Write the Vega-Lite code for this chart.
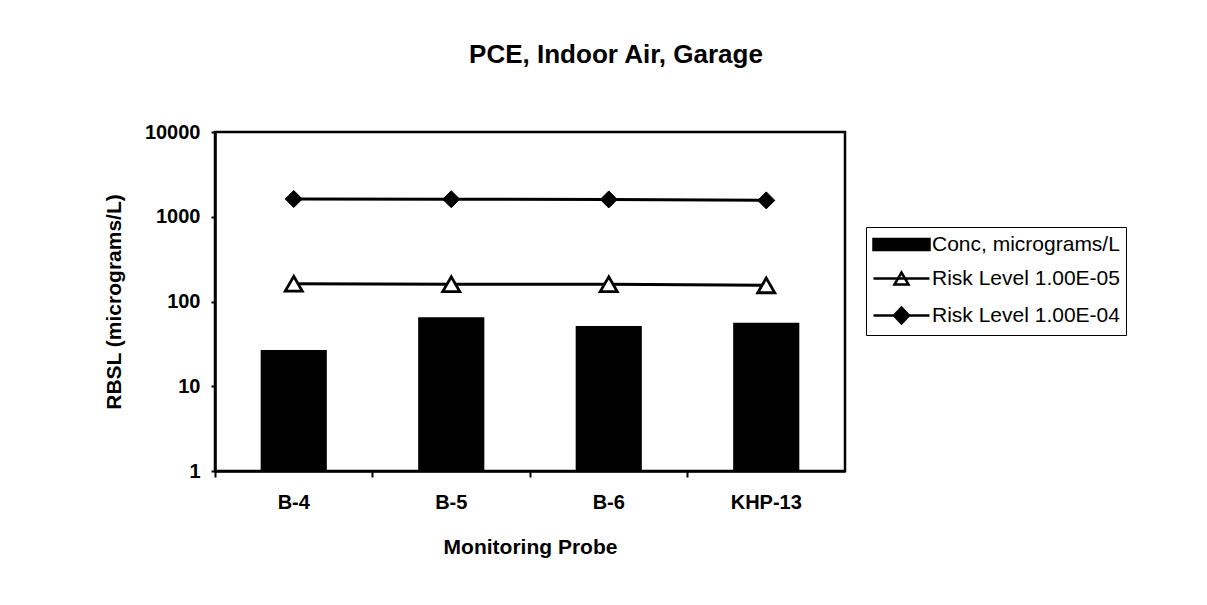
{
  "$schema": "https://vega.github.io/schema/vega-lite/v6.json",
  "autosize": "none",
  "width": 630,
  "height": 339,
  "padding": {"left": 215, "top": 132, "right": 362, "bottom": 134},
  "background": "white",
  "title": {
    "text": "PCE, Indoor Air, Garage",
    "font": "Liberation Sans",
    "fontSize": 26,
    "fontWeight": "bold",
    "color": "black",
    "anchor": "middle",
    "dx": 86,
    "offset": 54
  },
  "data": {
    "values": [
      {"probe": "B-4", "series": "Conc, micrograms/L", "value": 26.8},
      {"probe": "B-5", "series": "Conc, micrograms/L", "value": 65},
      {"probe": "B-6", "series": "Conc, micrograms/L", "value": 51.4},
      {"probe": "KHP-13", "series": "Conc, micrograms/L", "value": 56.2},
      {"probe": "B-4", "series": "Risk Level 1.00E-05", "value": 162},
      {"probe": "B-5", "series": "Risk Level 1.00E-05", "value": 160},
      {"probe": "B-6", "series": "Risk Level 1.00E-05", "value": 160},
      {"probe": "KHP-13", "series": "Risk Level 1.00E-05", "value": 155},
      {"probe": "B-4", "series": "Risk Level 1.00E-04", "value": 1620},
      {"probe": "B-5", "series": "Risk Level 1.00E-04", "value": 1610},
      {"probe": "B-6", "series": "Risk Level 1.00E-04", "value": 1600},
      {"probe": "KHP-13", "series": "Risk Level 1.00E-04", "value": 1560}
    ]
  },
  "encoding": {
    "x": {
      "field": "probe",
      "type": "nominal",
      "sort": ["B-4", "B-5", "B-6", "KHP-13"],
      "scale": {"domain": ["B-4", "B-5", "B-6", "KHP-13"], "paddingInner": 0.58, "paddingOuter": 0.29},
      "axis": {
        "title": "Monitoring Probe",
        "labelAngle": 0,
        "ticks": true,
        "tickSize": 6,
        "bandPosition": -0.69,
        "labelPadding": 15,
        "titlePadding": 24
      }
    },
    "y": {
      "field": "value",
      "type": "quantitative",
      "scale": {"type": "log", "domain": [1, 10000]},
      "axis": {
        "title": "RBSL (micrograms/L)",
        "values": [1, 10, 100, 1000, 10000],
        "format": "d",
        "tickSize": 4,
        "labelPadding": 11,
        "titlePadding": 20
      }
    }
  },
  "layer": [
    {
      "transform": [{"filter": "datum.series === 'Conc, micrograms/L'"}],
      "mark": {"type": "bar", "color": "black"},
      "encoding": {"y2": {"datum": 1}}
    },
    {
      "transform": [{"filter": "datum.series !== 'Conc, micrograms/L'"}],
      "mark": {"type": "line", "color": "black", "strokeWidth": 3},
      "encoding": {"detail": {"field": "series"}}
    },
    {
      "transform": [{"filter": "datum.series === 'Risk Level 1.00E-05'"}],
      "mark": {"type": "point", "shape": "triangle-up", "filled": true, "fill": "white", "size": 290, "stroke": "black", "strokeWidth": 2.8, "opacity": 1}
    },
    {
      "transform": [{"filter": "datum.series === 'Risk Level 1.00E-04'"}],
      "mark": {"type": "point", "shape": "diamond", "filled": true, "fill": "black", "size": 290, "stroke": "black", "strokeWidth": 1, "opacity": 1}
    },
    {
      "mark": {"type": "point", "filled": true, "opacity": 0, "strokeWidth": 2.5},
      "encoding": {
        "shape": {
          "field": "series",
          "type": "nominal",
          "scale": {
            "domain": ["Conc, micrograms/L", "Risk Level 1.00E-05", "Risk Level 1.00E-04"],
            "range": ["M-1,-0.55H4.6V0.55H-1Z", "M-1,0H4.6M1.1,0.6L1.8,-0.6L2.5,0.6Z", "M-1,0H4.6M1.8,-0.8L2.55,0L1.8,0.8L1.05,0Z"]
          },
          "legend": {
            "title": null,
            "orient": "none",
            "legendX": 651,
            "legendY": 95,
            "strokeColor": "black",
            "fillColor": "white",
            "padding": 6,
            "labelFont": "Liberation Sans",
            "labelFontSize": 21,
            "labelColor": "black",
            "labelOffset": 37,
            "labelLimit": 0,
            "rowPadding": 12,
            "symbolSize": 400,
            "symbolStrokeWidth": 2.5,
            "symbolOpacity": 1
          }
        },
        "fill": {
          "field": "series",
          "type": "nominal",
          "scale": {
            "domain": ["Conc, micrograms/L", "Risk Level 1.00E-05", "Risk Level 1.00E-04"],
            "range": ["black", "white", "black"]
          }
        },
        "stroke": {
          "field": "series",
          "type": "nominal",
          "scale": {
            "domain": ["Conc, micrograms/L", "Risk Level 1.00E-05", "Risk Level 1.00E-04"],
            "range": ["black", "black", "black"]
          }
        }
      }
    }
  ],
  "config": {
    "view": {"stroke": "black", "strokeWidth": 2.5},
    "axis": {
      "domainColor": "black",
      "domainWidth": 2.5,
      "tickColor": "black",
      "tickWidth": 2,
      "grid": false,
      "labelFont": "Liberation Sans",
      "labelFontSize": 20,
      "labelFontWeight": "bold",
      "labelColor": "black",
      "titleFont": "Liberation Sans",
      "titleFontSize": 21,
      "titleFontWeight": "bold",
      "titleColor": "black"
    }
  }
}
